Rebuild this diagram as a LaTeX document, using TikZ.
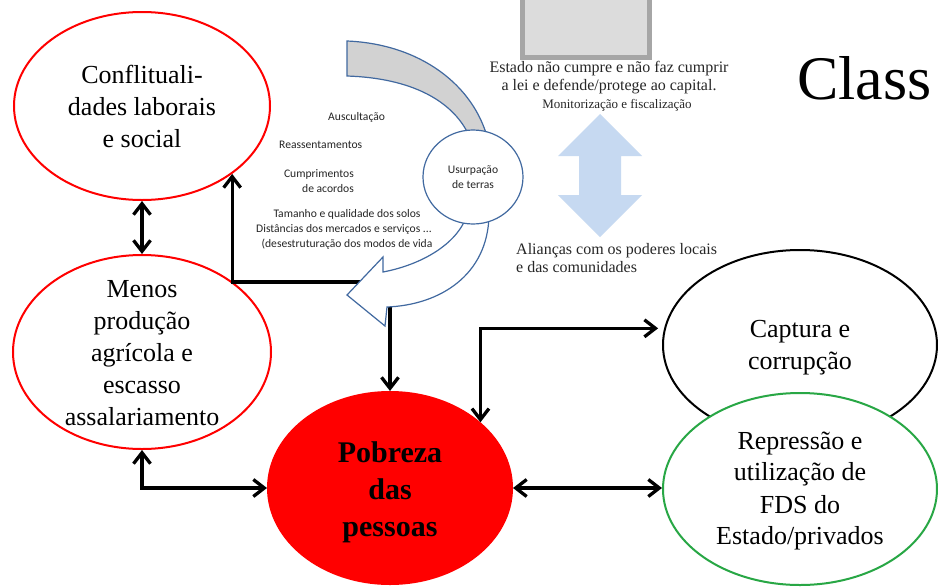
\documentclass[tikz,border=0pt]{standalone}
\usepackage{fontspec}
\setmainfont{Liberation Serif}
\newfontfamily\calfont{Carlito}
\usetikzlibrary{arrows.meta,shapes.geometric}
\definecolor{ured}{RGB}{255,0,0}
\definecolor{ugreen}{RGB}{40,167,69}
\definecolor{ublue}{RGB}{65,105,160}
\definecolor{lblue}{RGB}{198,217,241}
\definecolor{gborder}{RGB}{166,166,166}
\definecolor{gfill}{RGB}{220,220,220}
\definecolor{bandgrey}{RGB}{210,210,210}
\begin{document}
\begin{tikzpicture}[x=1pt,y=-1pt,
  >={Straight Barb[length=11pt,width=17pt]},
  ell/.style={ellipse, draw, line width=2pt, fill=white, inner sep=0pt},
  big/.style={font=\fontsize{26}{32}\selectfont, align=center, inner sep=0pt},
  small/.style={font=\calfont\fontsize{11.6}{15}\selectfont, text=black!85, inner sep=0pt},
  note/.style={font=\fontsize{16}{18}\selectfont, inner sep=0pt, text=black!85},
  conn/.style={line width=3.3pt, draw=black},
  shapeline/.style={draw=ublue, line width=1.2pt}
]
\useasboundingbox (0,0) rectangle (938,587);
\fill[white] (0,0) rectangle (938,587);
\clip (0,0) rectangle (938,587);

% grey box at top
\draw[line width=5pt, draw=gborder, fill=gfill] (522.5,-10) rectangle (649.5,57.5);

% light blue double arrow
\fill[lblue] (600,114) -- (642,156) -- (621,156) -- (621,195) -- (642,195) -- (600,237)
  -- (558,195) -- (579,195) -- (579,156) -- (558,156) -- cycle;

% grey curved band
\draw[shapeline, fill=bandgrey] (347,41) .. controls (420,44) and (474,85) .. (488,140)
  -- (471,140) .. controls (455,100) and (410,78) .. (347,76) -- cycle;

% ellipses
\node[ell, draw=ured, minimum width=256pt, minimum height=188pt] (conf) at (142,106) {};
\node[ell, draw=ured, minimum width=258pt, minimum height=194pt] (menos) at (142,352) {};
\node[ell, draw=ured, fill=ured, minimum width=244pt, minimum height=192pt] (pob) at (390,488) {};
\node[ell, draw=black, minimum width=274pt, minimum height=190pt] (cap) at (800,345) {};
\node[ell, draw=ugreen, minimum width=274pt, minimum height=192pt] (rep) at (800,489) {};

% connectors
\coordinate (corner) at (390,282);
\draw[conn, ->] (corner) -- (pob.north);
\draw[conn, ->] (corner) -| (conf.-37);
\draw[conn, <->] (conf.south) -- (menos.north);
\draw[conn, <->] (menos.south) |- (pob.west);
\draw[conn, <->] (pob.36) |- ([xshift=-6pt]cap.173);
\draw[conn, <->] (pob.east) -- (pob.east -| rep.west);

% white curved arrow
\draw[shapeline, fill=white] (489,215) .. controls (488,275) and (440,305) .. (387,307)
  -- (385,326) -- (347,295) -- (383,257) -- (383,272)
  .. controls (420,265) and (457,245) .. (467,215) -- cycle;

% usurpacao circle
\node[ellipse, shapeline, fill=white, minimum width=100pt, minimum height=94pt, inner sep=0pt,
  font=\calfont\fontsize{11.6}{14.5}\selectfont, align=center, text=black!85] (usu) at (473,177)
  {Usurpação\\de terras};

% texts in ellipses
\node[big] (conft) at (142,106) {Conflituali-\\dades laborais\\e social};
\node[big] (menost) at (142,353) {Menos\\produção\\agrícola e\\escasso\\assalariamento};
\node[big, font=\bfseries\fontsize{30}{37}\selectfont] (pobt) at (390,492) {Pobreza\\das\\pessoas};
\node[big] (capt) at (800,348) {Captura e\\corrupção};
\node[big] (rept) at (800,491) {Repressão e\\utilização de\\FDS do\\Estado/privados};

% small sans texts
\node[small, anchor=base west] (t1) at (328,120) {Auscultação};
\node[small, anchor=base west] (t2) at (279,148) {Reassentamentos};
\node[small, anchor=base east] (t3) at (354,177) {Cumprimentos};
\node[small, anchor=base east] (t4) at (354,192) {de acordos};
\node[small, anchor=base] (t5) at (347,217) {Tamanho e qualidade dos solos};
\node[small, anchor=base] (t6) at (344,232) {Distâncias dos mercados e serviços ...};
\node[small, anchor=base] (t7) at (347,247) {(desestruturação dos modos de vida};

% serif notes
\node[note, anchor=base] (est1) at (609,72) {Estado não cumpre e não faz cumprir};
\node[note, anchor=base] (est2) at (609,90) {a lei e defende/protege ao capital.};
\node[font=\fontsize{13}{15}\selectfont, inner sep=0pt, anchor=base, text=black!85] (mon) at (617,108) {Monitorização e fiscalização};
\node[note, anchor=base west] (ali1) at (516,254) {Alianças com os poderes locais};
\node[note, anchor=base west] (ali2) at (516,272) {e das comunidades};

% title fragment
\node[font=\fontsize{62}{70}\selectfont, inner sep=0pt, anchor=base west] (cls) at (797,99) {Class};
\end{tikzpicture}
\end{document}
